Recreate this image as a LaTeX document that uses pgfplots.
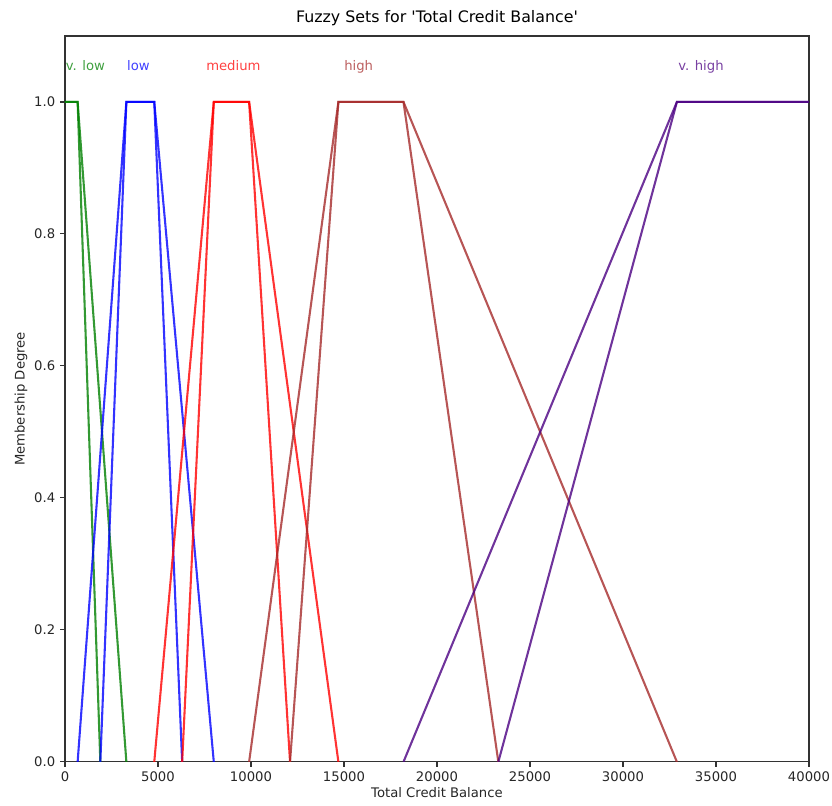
\documentclass[border=0pt]{standalone}
\usepackage{fontspec}
\setmainfont{DejaVu Sans}
\usepackage{pgfplots}
\pgfplotsset{compat=1.18}
\definecolor{mgreen}{HTML}{008000}
\definecolor{mblue}{HTML}{0000FF}
\definecolor{mred}{HTML}{FF0000}
\definecolor{mbrown}{HTML}{A52A2A}
\definecolor{mindigo}{HTML}{4B0082}
\begin{document}
\begin{tikzpicture}
\begin{axis}[
  at={(0,0)}, anchor=south west,
  scale only axis, width=535.7pt, height=522.7pt,
  xmin=0, xmax=40000, ymin=0, ymax=1.1,
  xtick={0,5000,...,40000},
  ytick={0,0.2,0.4,0.6,0.8,1.0},
  scaled x ticks=false,
  xticklabel style={/pgf/number format/1000 sep={}},
  yticklabel style={/pgf/number format/fixed,/pgf/number format/fixed zerofill,/pgf/number format/precision=1},
  /pgf/number format/assume math mode=true,
  tick align=outside, tick pos=left,
  major tick length=3.5pt,
  tick style={line width=0.8pt, color=black!80},
  axis line style={line width=0.8pt, color=black!80},
  ticklabel style={font=\fontsize{9.5}{11}\selectfont, color=black!85},
  xlabel={Total Credit Balance}, ylabel={Membership Degree},
  label style={font=\fontsize{9.5}{11}\selectfont, color=black!85},
  xlabel style={yshift=3pt},
  ylabel style={yshift=-2pt},
  title={Fuzzy Sets for \textquotesingle Total Credit Balance\textquotesingle},
  title style={font=\fontsize{11.4}{13}\selectfont, yshift=-2pt},
  every axis plot/.append style={line width=1.5pt, opacity=0.8},
  clip=true,
]
% v. low
\addplot[mgreen] coordinates {(0,1) (680,1) (1900,0)};
\addplot[mgreen] coordinates {(0,1) (680,1) (3300,0)};
% low
\addplot[mblue] coordinates {(680,0) (3300,1) (4800,1) (8000,0)};
\addplot[mblue] coordinates {(1900,0) (3300,1) (4800,1) (6300,0)};
% medium
\addplot[mred] coordinates {(4800,0) (8000,1) (9900,1) (14700,0)};
\addplot[mred] coordinates {(6300,0) (8000,1) (9900,1) (12100,0)};
% high
\addplot[mbrown] coordinates {(9900,0) (14700,1) (18200,1) (32900,0)};
\addplot[mbrown] coordinates {(12100,0) (14700,1) (18200,1) (23300,0)};
% v. high
\addplot[mindigo] coordinates {(18200,0) (32900,1) (40000,1)};
\addplot[mindigo] coordinates {(23300,0) (32900,1) (40000,1)};

\node[anchor=base west, inner sep=0pt, text=mgreen, opacity=0.75, font=\fontsize{9.5}{11}\selectfont] at (axis cs:30,1.047) {v. low};
\node[anchor=base west, inner sep=0pt, text=mblue, opacity=0.75, font=\fontsize{9.5}{11}\selectfont] at (axis cs:3330,1.047) {low};
\node[anchor=base west, inner sep=0pt, text=mred, opacity=0.75, font=\fontsize{9.5}{11}\selectfont] at (axis cs:7580,1.047) {medium};
\node[anchor=base west, inner sep=0pt, text=mbrown, opacity=0.75, font=\fontsize{9.5}{11}\selectfont] at (axis cs:15000,1.047) {high};
\node[anchor=base west, inner sep=0pt, text=mindigo, opacity=0.75, font=\fontsize{9.5}{11}\selectfont] at (axis cs:32960,1.047) {v. high};
\end{axis}
\pgfresetboundingbox
\path[use as bounding box] (-46.8pt,-31.7pt) rectangle (552.3pt,548.6pt);
\end{tikzpicture}
\end{document}
